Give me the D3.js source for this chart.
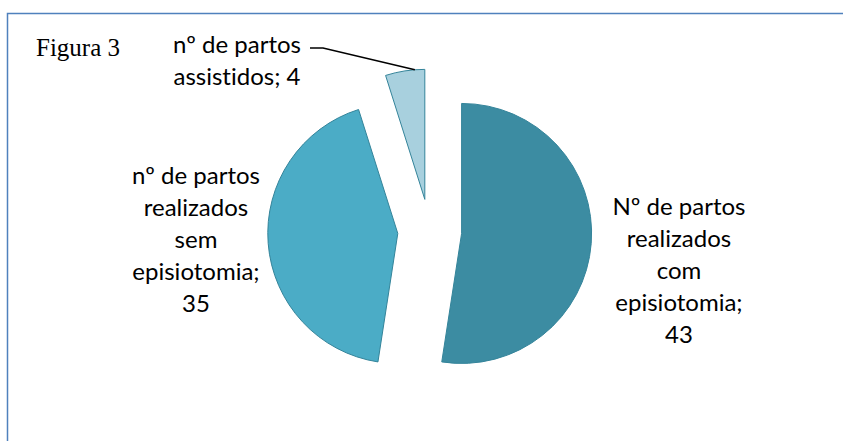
<!DOCTYPE html>
<html>
<head>
<meta charset="utf-8">
<script src="https://cdn.jsdelivr.net/npm/d3@7"></script>
<style>
body { margin: 0; background: #fff; }
svg { display: block; }
text { font-variant-ligatures: none; font-feature-settings: "liga" 0, "clig" 0; }
</style>
</head>
<body>
<svg id="chart" width="843" height="441"></svg>
<script>
// data
var labels = [
	["Nº de partos", "realizados", "com", "episiotomia;", "43"],
	["nº de partos", "realizados", "sem", "episiotomia;", "35"],
	["nº de partos", "assistidos; 4"]
];
var values = [43, 35, 4];
var colors = ["#3C8CA2", "#4BACC6", "#A8D0DE"];

var width = 843, height = 441;
var radius = 130, explode = 32;
var cx = 429.7, cy = 231;

var svg = d3.select("#chart");

// frame
svg.append("path")
	.attr("d", "M 7.5 441 L 7.5 13.5 L 843 13.5")
	.attr("fill", "none")
	.attr("stroke", "#4F81BD")
	.attr("stroke-width", 1.5);

svg.append("text")
	.attr("x", 36)
	.attr("y", 56)
	.style("font-family", "'Liberation Serif', 'Times New Roman', serif")
	.style("font-size", "25px")
	.text("Figura 3");

var pie = d3.pie().sort(null).value(function (d) {return d;});
var arc = d3.arc().innerRadius(0).outerRadius(radius);
var arcs = pie(values);

var g = svg.append("g").attr("transform", "translate(" + cx + "," + cy + ")");

function offset(d) {
	var a = (d.startAngle + d.endAngle) / 2;
	return [Math.sin(a) * explode, -Math.cos(a) * explode];
}

g.selectAll("path.slice")
	.data(arcs)
	.enter().append("path")
	.attr("class", "slice")
	.attr("d", arc)
	.attr("transform", function (d) {var o = offset(d); return "translate(" + o[0] + "," + o[1] + ")";})
	.attr("fill", function (d, i) {return colors[i];})
	.attr("stroke", "#34849A")
	.attr("stroke-width", 1);

// label block centres (relative to chart)
var labelPos = [[679, 271], [196, 240], [237, 61]];
var lineH = 32;

var lab = svg.selectAll("g.lab")
	.data(arcs)
	.enter().append("g")
	.attr("class", "lab");

lab.each(function (d, i) {
	var lines = labels[i];
	var p = labelPos[i];
	var y0 = p[1] - (lines.length - 1) * lineH / 2;
	var t = d3.select(this).append("text")
		.attr("text-anchor", "middle")
		.style("font-family", "Lato, sans-serif")
		.style("font-size", "24px")
		.attr("fill", "#000");
	lines.forEach(function (s, j) {
		t.append("tspan")
			.attr("x", p[0])
			.attr("y", y0 + j * lineH)
			.attr("dy", "0.35em")
			.text(s);
	});
});

// leader line for small slice
var small = arcs[2];
var so = offset(small);
var ma = small.startAngle + (small.endAngle - small.startAngle) * 0.75;
var ex = cx + so[0] + Math.sin(ma) * radius;
var ey = cy + so[1] - Math.cos(ma) * radius;
svg.append("polyline")
	.attr("points", [[310, 48], [323, 48], [ex, ey]].map(function (p) {return p.join(",");}).join(" "))
	.attr("fill", "none")
	.attr("stroke", "#000")
	.attr("stroke-width", 1.5);
</script>
</body>
</html>
